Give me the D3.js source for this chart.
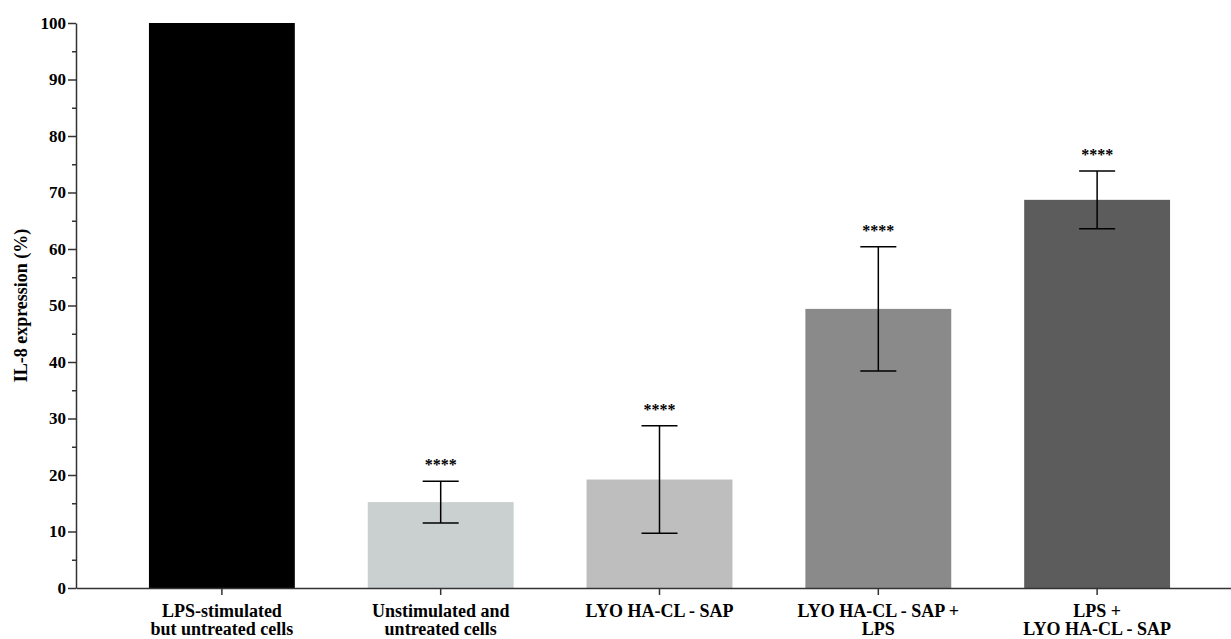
<!DOCTYPE html>
<html>
<head>
<meta charset="utf-8">
<script src="https://cdn.jsdelivr.net/npm/d3@7"></script>
<style>
  html, body { margin: 0; padding: 0; background: #fff; }
  svg { display: block; }
  text { font-family: "Liberation Serif", "Times New Roman", serif; font-weight: bold; fill: #000; }
</style>
</head>
<body>
<svg id="chart" width="1231" height="639"></svg>
<script>
// Groups (each label split into its lines)
const categories = [
  ["LPS-stimulated", "but untreated cells"],
  ["Unstimulated and", "untreated cells"],
  ["LYO HA-CL - SAP"],
  ["LYO HA-CL - SAP +", "LPS"],
  ["LPS +", "LYO HA-CL - SAP"]
];
const means = [100, 15.2, 19.2, 49.4, 68.7];
const errors = [0, 3.7, 9.5, 11.0, 5.1];
const significance = ["", "****", "****", "****", "****"];
const barColors = ["#000000", "#cad0cf", "#bebebe", "#8a8a8a", "#5c5c5c"];
const yTicks = [0, 10, 20, 30, 40, 50, 60, 70, 80, 90, 100];
const yMinorTicks = [5, 15, 25, 35, 45, 55, 65, 75, 85, 95];

const svg = d3.select("#chart");
const plotLeft = 76, plotBottom = 588, plotTop = 23;

const x = d3.scaleBand()
  .domain(d3.range(categories.length))
  .range([plotLeft, 1243])
  .paddingInner(1 / 3)
  .paddingOuter(1 / 3);

const y = d3.scaleLinear().domain([0, 100]).range([plotBottom, plotTop]);

// Bars
svg.append("g").selectAll("rect")
  .data(means)
  .join("rect")
  .attr("x", (d, i) => x(i))
  .attr("width", x.bandwidth())
  .attr("y", d => y(d))
  .attr("height", d => y(0) - y(d))
  .attr("fill", (d, i) => barColors[i]);

// Error bars
const capHalf = 18;
const eg = svg.append("g").attr("stroke", "#000").attr("stroke-width", 1.5);
means.forEach((m, i) => {
  if (!errors[i]) return;
  const cx = x(i) + x.bandwidth() / 2;
  eg.append("line").attr("x1", cx).attr("x2", cx)
    .attr("y1", y(m + errors[i])).attr("y2", y(m - errors[i]));
  [m + errors[i], m - errors[i]].forEach(v => {
    eg.append("line").attr("x1", cx - capHalf).attr("x2", cx + capHalf)
      .attr("y1", y(v)).attr("y2", y(v));
  });
});

// Significance stars
svg.append("g").selectAll("text")
  .data(means)
  .join("text")
  .attr("x", (d, i) => x(i) + x.bandwidth() / 2)
  .attr("y", (d, i) => y(d + errors[i]) - 11)
  .attr("text-anchor", "middle")
  .style("font-size", "16px")
  .text((d, i) => significance[i]);

// Y axis
const yAxis = svg.append("g")
  .attr("transform", `translate(${plotLeft},0)`)
  .call(d3.axisLeft(y).tickValues(yTicks).tickSize(8).tickPadding(2).tickSizeOuter(0));
yAxis.select(".domain").attr("stroke", "#333").attr("stroke-width", 1.5);
yAxis.selectAll(".tick line").attr("stroke", "#333").attr("stroke-width", 1.5);
yAxis.selectAll(".tick text").style("font-size", "17px")
  .style("font-family", "'Liberation Serif', serif").style("font-weight", "bold");

const yMinor = svg.append("g")
  .attr("transform", `translate(${plotLeft},0)`)
  .call(d3.axisLeft(y).tickValues(yMinorTicks).tickSize(4).tickFormat(""));
yMinor.select(".domain").remove();
yMinor.selectAll(".tick line").attr("stroke", "#333").attr("stroke-width", 1.5);

// X axis
const xAxis = svg.append("g")
  .attr("transform", `translate(0,${plotBottom})`)
  .call(d3.axisBottom(x).tickSize(7).tickSizeOuter(0).tickFormat(""));
xAxis.select(".domain").attr("stroke", "#333").attr("stroke-width", 1.5);
xAxis.selectAll(".tick line").attr("stroke", "#333").attr("stroke-width", 1.5);

// Multi-line category labels
svg.append("g").selectAll("text")
  .data(categories)
  .join("text")
  .attr("text-anchor", "middle")
  .style("font-size", "18px")
  .attr("transform", (d, i) => `translate(${x(i) + x.bandwidth() / 2},0)`)
  .each(function (lines) {
    d3.select(this).selectAll("tspan")
      .data(lines)
      .join("tspan")
      .attr("x", 0)
      .attr("y", (l, k) => 617 + k * 18)
      .text(l => l);
  });

// Y axis title
svg.append("text")
  .attr("transform", `translate(27,${(plotTop + plotBottom) / 2}) rotate(-90)`)
  .attr("text-anchor", "middle")
  .style("font-size", "18px")
  .text("IL-8 expression (%)");
</script>
</body>
</html>
